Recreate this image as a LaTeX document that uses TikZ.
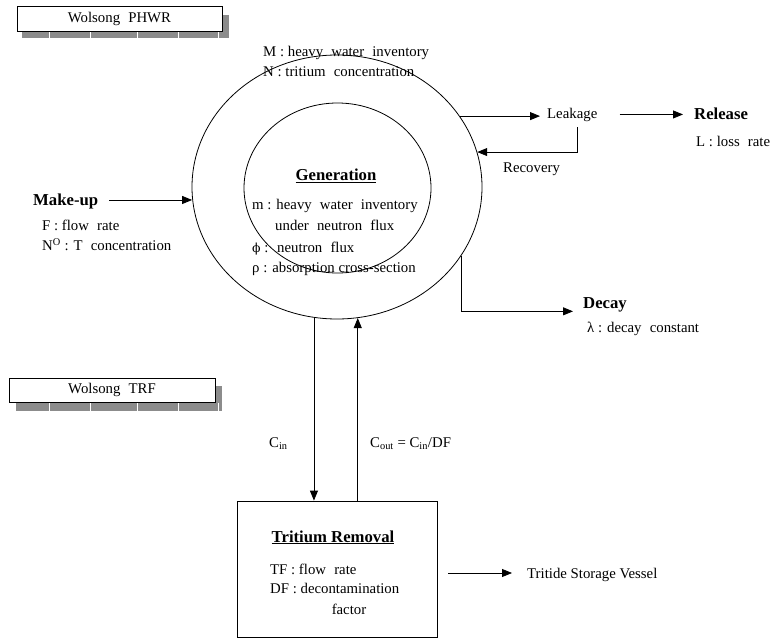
\documentclass[tikz,border=0pt]{standalone}
\usepackage{fontspec}
\setmainfont{Liberation Serif}
\newfontfamily\grkfont{DejaVu Serif}
\newcommand\ws{\hspace{0.55em}}
\usetikzlibrary{shapes.geometric,arrows.meta,calc}
\tikzset{
  txt/.style={font=\fontsize{14.8}{20.5}\selectfont, inner sep=0pt, anchor=base west},
  ctxt/.style={txt, anchor=base},
  hd/.style={font=\fontsize{16.7}{20}\selectfont\bfseries, inner sep=0pt, anchor=base west},
  chd/.style={hd, anchor=base},
  arr/.style={-{Triangle[length=10pt,width=8pt]}, line width=0.8pt},
  ring/.style={draw, ellipse, line width=0.8pt, inner sep=0pt},
  titlebox/.style={draw, line width=0.9pt, fill=white, inner sep=0pt, font=\fontsize{14.8}{17}\selectfont},
  shade/.style={fill=black!45}
}
\begin{document}
\begin{tikzpicture}[x=1pt,y=-1pt]
\useasboundingbox (0,0) rectangle (771,639);

% ---- title boxes with shadows ----
\fill[shade] (22,31) rectangle (229,38);
\fill[shade] (222,15) rectangle (229,38);
\foreach \xx in {49,90,137,178,218} \draw[white, line width=0.9pt] (\xx,31.5) -- (\xx,38);
\node[titlebox, minimum width=205pt, minimum height=25pt] (phwr) at (119.5,18.5) {Wolsong\ws PHWR\hspace{9pt}};

\fill[shade] (16,402) rectangle (222,411);
\fill[shade] (215,386) rectangle (222,411);
\foreach \xx in {49,90,137,178,218} \draw[white, line width=0.9pt] (\xx,402.5) -- (\xx,411);
\node[titlebox, minimum width=206pt, minimum height=24pt] (trftitle) at (112,390) {Wolsong\ws TRF\hspace{6pt}};

% ---- reactor rings ----
\node[ring, minimum width=290pt, minimum height=264pt] (outer) at (337,187) {};
\node[ring, minimum width=187pt, minimum height=170pt] (inner) at (337.5,188) {};

\node[txt] (mline) at (263,57) {M : heavy\ws water\ws inventory};
\node[txt] (nline) at (263,77) {N : tritium\ws concentration};

\node[chd] (gen) at (336,180.5) {\underline{Generation}};
\node[txt] (g1) at (252,210) {m : heavy\ws water\ws inventory};
\node[txt] (g2) at (275,231) {under\ws neutron\ws flux};
\node[txt] (g3) at (252,252) {{\grkfont\fontsize{12.5}{15}\selectfont ϕ} : \ neutron\ws flux};
\node[txt] (g4) at (252,272) {ρ : absorption cross-section};

% ---- make-up ----
\node[hd] (mk) at (33,206) {Make-up};
\node[txt] (mk1) at (42,231) {F : flow\ws rate};
\node[txt] (mk2) at (42,251) {N\textsuperscript{O} : T\ws concentration};

% ---- leakage / release / recovery ----
\node[txt] (leak) at (547,119) {Leakage};
\node[hd] (rel) at (694,120) {Release};
\node[txt] (rel1) at (696,147) {L : loss\ws rate};
\node[txt] (rec) at (503,173) {Recovery};

% ---- decay ----
\node[hd] (dec) at (583,308) {Decay};
\node[txt] (dec1) at (587,332) {λ : decay\ws constant};

% ---- tritium removal ----
\node[draw, line width=0.8pt, minimum width=200pt, minimum height=136pt, inner sep=0pt] (trf) at (337,569) {};
\node[chd] (trfh) at (333,542) {\underline{Tritium Removal}};
\node[txt] (t1) at (270,574) {TF : flow\ws rate};
\node[txt] (t2) at (270,593) {DF : decontamination};
\node[ctxt] (t3) at (349,614) {factor};
\node[txt] (tsv) at (527,578) {Tritide Storage Vessel};

\node[txt] (cin) at (269,447) {C\textsubscript{in}};
\node[txt] (cout) at (370,447) {C\textsubscript{out} = C\textsubscript{in}/DF};

% ---- connectors ----
\draw[arr] ($(mk.east)+(11,-2)$) -- ($(mk.east -| outer.west)+(0.5,-2)$);
\draw[arr] (outer.30.6) -- ($(outer.30.6 -| leak.west)+(-7,0)$);
\draw[arr] ($(leak.east)+(22,-1)$) -- ($(leak.east -| rel.west)+(-11,-1)$);
\draw[arr] ($(leak.south)+(5,5)$) |- (outer.14);
\draw[arr] (outer.-29.6) |- ($(dec.west)+(-10,7)$);
\draw[arr] (outer.-100.9) -- (outer.-100.9 |- trf.north);
\draw[arr] (outer.-81.1 |- trf.north) -- (outer.-81.1);
\draw[arr] ($(trf.east)+(11,4)$) -- ($(trf.east -| tsv.west)+(-15,4)$);
\end{tikzpicture}
\end{document}
